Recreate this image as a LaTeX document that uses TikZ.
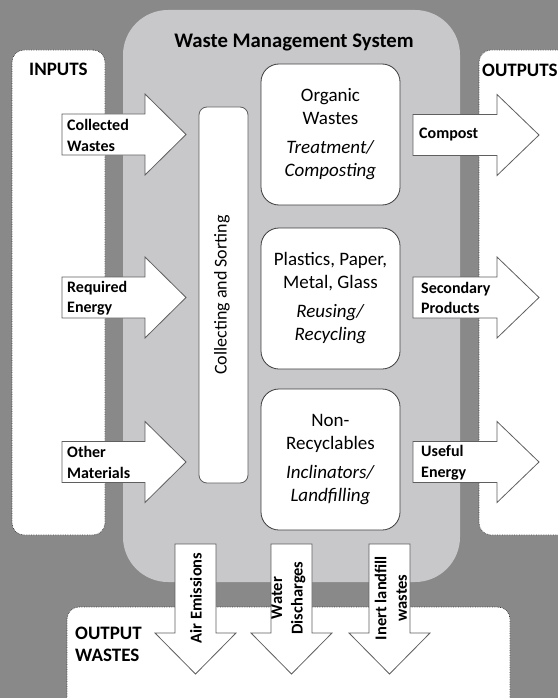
\documentclass[tikz,border=0pt]{standalone}
\usepackage{fontspec}
\setmainfont{Carlito}
\usetikzlibrary{calc}
\definecolor{bgc}{RGB}{137,137,137}
\definecolor{panelc}{RGB}{200,200,203}
\definecolor{edgec}{RGB}{60,60,60}
\definecolor{arrowedge}{RGB}{95,95,95}
\tikzset{
  outerbox/.style={draw=edgec, densely dotted, line width=0.7pt, fill=white, rounded corners=12pt, inner sep=0pt},
  innerbox/.style={draw=edgec, line width=0.8pt, fill=white, rounded corners=18pt, inner sep=0pt, align=center,
     minimum width=139pt, minimum height=141pt, font=\fontsize{19}{23}\selectfont},
  sortbox/.style={draw=arrowedge, line width=0.8pt, fill=white, rounded corners=8pt, inner sep=0pt},
  blockarrow/.style={draw=arrowedge, line width=0.8pt, fill=white, line join=miter},
  lbl/.style={font=\bfseries\fontsize{16}{20.5}\selectfont, align=left, inner sep=0pt, anchor=west},
  vlbl/.style={font=\bfseries\fontsize{16.5}{20.5}\selectfont, align=center, inner sep=0pt, rotate=90},
  head/.style={font=\bfseries\fontsize{19}{22}\selectfont, align=left, inner sep=0pt, anchor=west}
}
\newcommand\rightblock[4]{% x0, xh, xt, yc
  \draw[blockarrow] (#1,#4-20.5) -- (#2,#4-20.5) -- (#2,#4-40.5) -- (#3,#4) -- (#2,#4+40.5) -- (#2,#4+20.5) -- (#1,#4+20.5) -- cycle;}
\newcommand\downblock[1]{% xc
  \draw[blockarrow] (#1-20.5,544) -- (#1+20.5,544) -- (#1+20.5,633) -- (#1+40.5,633) -- (#1,674) -- (#1-40.5,633) -- (#1-20.5,633) -- cycle;}
\begin{document}
\begin{tikzpicture}[x=1pt,y=-1pt]
\useasboundingbox (0,0) rectangle (558,698);
\clip (0,0) rectangle (558,698);
\fill[bgc] (0,0) rectangle (558,698);
% system panel
\node[fill=panelc, rounded corners=45pt, minimum width=337pt, minimum height=572pt, inner sep=0pt] (sys) at (291.5,296) {};
\node[font=\bfseries\fontsize{20.7}{24}\selectfont, inner sep=0pt] (title) at (294,42) {Waste Management System};
% outer boxes
\node[outerbox, minimum width=93pt, minimum height=485pt] (inputs) at (58.5,292.5) {};
\node[outerbox, minimum width=111pt, minimum height=485pt] (outputs) at (534.5,292.5) {};
\node[outerbox, minimum width=443pt, minimum height=113pt] (owastes) at (288.5,663.5) {};
\node[head] (inlbl) at (29,69) {INPUTS};
\node[head] (outlbl) at (482,70) {OUTPUTS};
\node[head] (owlbl) at (75,644) {OUTPUT\\WASTES};
% collecting and sorting
\node[sortbox, minimum width=49pt, minimum height=376pt] (sort) at (223.5,295) {};
\node[rotate=90, font=\fontsize{18}{20}\selectfont, inner sep=0pt] (sortlbl) at (222,295) {Collecting and Sorting};
% process boxes
\node[innerbox] (org) at (330.5,134.5) {Organic\\Wastes\\[6pt]\textit{Treatment/}\\\textit{Composting}};
\node[innerbox] (rec) at (330.5,298.5) {Plastics, Paper,\\Metal, Glass\\[6pt]\textit{Reusing/}\\\textit{Recycling}};
\node[innerbox] (non) at (330.5,459.5) {Non-\\Recyclables\\[6pt]\textit{Inclinators/}\\\textit{Landfilling}};
% input arrows
\rightblock{62}{145}{186}{134.5}
\rightblock{62}{145}{186}{297.5}
\rightblock{62}{145}{186}{462}
\node[lbl] (cw) at (67,135.5) {Collected\\Wastes};
\node[lbl] (re) at (67,298) {Required\\Energy};
\node[lbl] (om) at (67,462.5) {Other\\Materials};
% output arrows
\rightblock{413}{497}{539}{135}
\rightblock{413}{497}{539}{297.5}
\rightblock{413}{497}{539}{462}
\node[lbl] (comp) at (419,135) {Compost};
\node[lbl] (sec) at (421,298) {Secondary\\Products};
\node[lbl] (use) at (421,462.5) {Useful\\Energy};
% output waste arrows
\downblock{195.5}
\downblock{291.5}
\downblock{389.5}
\node[vlbl] (air) at (196,598) {Air Emissions};
\node[vlbl] (wat) at (288.5,598) {Water\\Discharges};
\node[vlbl] (inert) at (391,598) {Inert landfill\\wastes};
\end{tikzpicture}
\end{document}
